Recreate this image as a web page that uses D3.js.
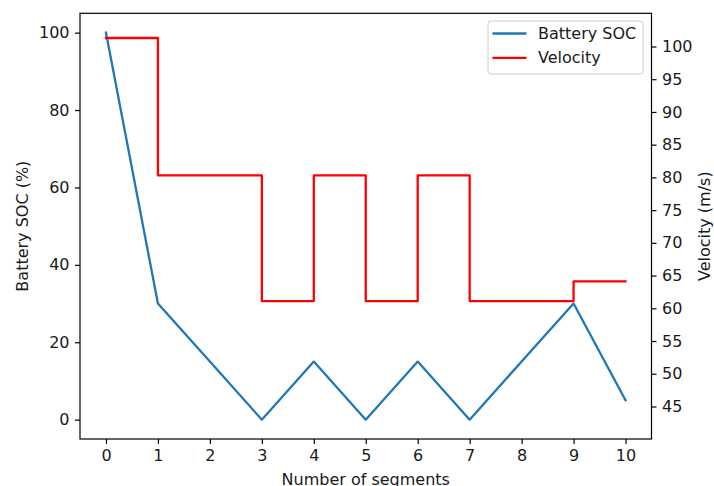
<!DOCTYPE html>
<html>
<head>
<meta charset="utf-8">
<script src="https://cdn.jsdelivr.net/npm/d3@7"></script>
<style>
  html, body { margin: 0; padding: 0; background: #fff; }
  svg { display: block; font-family: "DejaVu Sans", sans-serif; }
</style>
</head>
<body>
<svg id="chart" width="714" height="486"></svg>
<script>
// Segment indices along the route
const segments = [0, 1, 2, 3, 4, 5, 6, 7, 8, 9, 10];
// Battery state of charge at each segment boundary (%)
const socValues = [100, 30, 15, 0, 15, 0, 15, 0, 15, 30, 5];
// Velocity held over each segment (m/s), drawn as a post-step line
const velocityValues = [101.3, 80.3, 80.3, 61.1, 80.3, 61.1, 80.3, 61.1, 61.1, 64.1, 64.1];
// Tick labels
const xTicks = [0, 1, 2, 3, 4, 5, 6, 7, 8, 9, 10];
const socTicks = [0, 20, 40, 60, 80, 100];
const velTicks = [45, 50, 55, 60, 65, 70, 75, 80, 85, 90, 95, 100];

const svg = d3.select("#chart");
const plotLeft = 80, plotRight = 651.5, plotTop = 13.3, plotBottom = 439;
const fontSize = 16, tickLen = 5, tickPad = 5.5;
const textColor = "#1a1a1a";

const x = d3.scaleLinear().domain([-0.5, 10.5]).range([plotLeft, plotRight]);
const ySoc = d3.scaleLinear().domain([-5, 105]).range([plotBottom, plotTop]);
const yVel = d3.scaleLinear().domain([40.03, 105.07]).range([plotBottom, plotTop]);

// Data lines
const socLine = d3.line().x((d, i) => x(segments[i])).y(d => ySoc(d));
const velLine = d3.line().curve(d3.curveStepAfter).x((d, i) => x(segments[i])).y(d => yVel(d));

svg.append("path").datum(socValues)
  .attr("d", socLine).attr("fill", "none")
  .attr("stroke", "#1f77b4").attr("stroke-width", 2.3)
  .attr("stroke-linejoin", "round").attr("stroke-linecap", "square");

svg.append("path").datum(velocityValues)
  .attr("d", velLine).attr("fill", "none")
  .attr("stroke", "#ff0000").attr("stroke-width", 2.3)
  .attr("stroke-linejoin", "round").attr("stroke-linecap", "square");

// Axes
function styleAxis(g) {
  g.selectAll("path.domain").remove();
  g.selectAll("line").attr("stroke", "#000").attr("stroke-width", 1.2);
  g.selectAll("text").attr("fill", textColor)
    .style("font-size", fontSize + "px")
    .style("font-family", "'DejaVu Sans', sans-serif");
}

svg.append("g").attr("transform", `translate(0,${plotBottom})`)
  .call(d3.axisBottom(x).tickValues(xTicks).tickFormat(d3.format("d"))
    .tickSize(tickLen).tickPadding(tickPad))
  .call(styleAxis);

svg.append("g").attr("transform", `translate(${plotLeft},0)`)
  .call(d3.axisLeft(ySoc).tickValues(socTicks).tickFormat(d3.format("d"))
    .tickSize(tickLen).tickPadding(tickPad))
  .call(styleAxis);

svg.append("g").attr("transform", `translate(${plotRight},0)`)
  .call(d3.axisRight(yVel).tickValues(velTicks).tickFormat(d3.format("d"))
    .tickSize(tickLen).tickPadding(tickPad))
  .call(styleAxis);

// Frame
svg.append("rect")
  .attr("x", plotLeft).attr("y", plotTop)
  .attr("width", plotRight - plotLeft).attr("height", plotBottom - plotTop)
  .attr("fill", "none").attr("stroke", "#000").attr("stroke-width", 1.2);

// Axis titles
svg.append("text")
  .attr("transform", `translate(22,${(plotTop + plotBottom) / 2}) rotate(-90)`)
  .attr("text-anchor", "middle").attr("dominant-baseline", "central")
  .attr("fill", textColor).style("font-size", fontSize + "px")
  .text("Battery SOC (%)");

svg.append("text")
  .attr("transform", `translate(704,${(plotTop + plotBottom) / 2}) rotate(-90)`)
  .attr("text-anchor", "middle").attr("dominant-baseline", "central")
  .attr("fill", textColor).style("font-size", fontSize + "px")
  .text("Velocity (m/s)");

svg.append("text")
  .attr("x", (plotLeft + plotRight) / 2).attr("y", 485)
  .attr("text-anchor", "middle")
  .attr("fill", textColor).style("font-size", fontSize + "px")
  .text("Number of segments");

// Legend
const legendItems = [
  { label: "Battery SOC", color: "#1f77b4" },
  { label: "Velocity", color: "#ff0000" }
];
const legend = svg.append("g").attr("transform", "translate(488,21)");
legend.append("rect")
  .attr("width", 155).attr("height", 53).attr("rx", 3)
  .attr("fill", "#fff").attr("fill-opacity", 0.8)
  .attr("stroke", "#cccccc").attr("stroke-width", 1);
legendItems.forEach((item, i) => {
  const cy = 12.5 + i * 24.4;
  legend.append("line")
    .attr("x1", 4.5).attr("x2", 38.5).attr("y1", cy).attr("y2", cy)
    .attr("stroke", item.color).attr("stroke-width", 2.3);
  legend.append("text")
    .attr("x", 50).attr("y", cy).attr("dominant-baseline", "central")
    .attr("fill", textColor).style("font-size", fontSize + "px")
    .text(item.label);
});
</script>
</body>
</html>
